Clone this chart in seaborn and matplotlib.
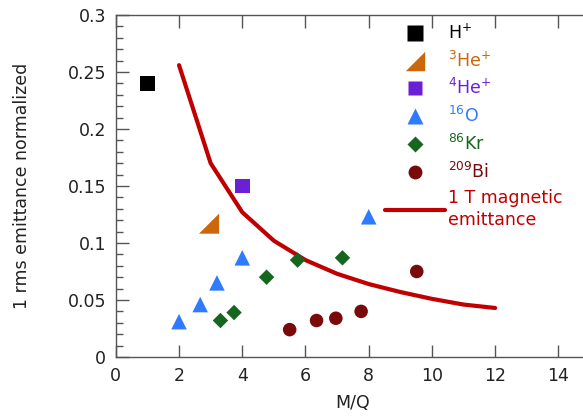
import matplotlib
matplotlib.use("Agg")
import matplotlib.pyplot as plt
import seaborn as sns
import pandas as pd
from matplotlib.lines import Line2D
from matplotlib.ticker import MultipleLocator

sns.set_style("ticks")
plt.rcParams['font.family'] = ['DejaVu Sans']
plt.rcParams['mathtext.fontset'] = 'dejavusans'

# data
h_x = [1.0]; h_y = [0.240]
he3_x = [2.95]; he3_y = [0.117]
he4_x = [4.0]; he4_y = [0.150]
o_x = [2.0, 2.67, 3.2, 4.0, 8.0]
o_y = [0.031, 0.046, 0.065, 0.087, 0.123]
kr_x = [3.31, 3.74, 4.77, 5.75, 7.17]
kr_y = [0.032, 0.039, 0.070, 0.085, 0.087]
bi_x = [5.5, 6.35, 6.96, 7.76, 9.52]
bi_y = [0.024, 0.032, 0.034, 0.040, 0.075]
line_x = [2, 3, 4, 5, 6, 7, 8, 9, 10, 11, 12]
line_y = [0.256, 0.170, 0.127, 0.102, 0.085, 0.073, 0.064, 0.057, 0.051, 0.046, 0.043]
x_ticks = [0, 2, 4, 6, 8, 10, 12, 14]
y_ticks = [0, 0.05, 0.1, 0.15, 0.2, 0.25, 0.3]
y_tick_labels = ['0', '0.05', '0.1', '0.15', '0.2', '0.25', '0.3']

labels = [r'H$^{+}$', r'$^{3}$He$^{+}$', r'$^{4}$He$^{+}$', r'$^{16}$O', r'$^{86}$Kr', r'$^{209}$Bi',
          '1 T magnetic\nemittance']
colors = ['#000000', '#CC660A', '#6B1FD6', '#2E7BFF', '#17661F', '#7A0A0A', '#C00000']
rtri = [(-1, -1), (1, -1), (1, 1), (-1, -1)]

FS = 12.5
fig = plt.figure(figsize=(5.83, 4.19), dpi=100)
ax = fig.add_axes([115.8/583, 1-357/419, (590-115.8)/583, (357-15)/419])

sns.lineplot(x=line_x, y=line_y, ax=ax, color=colors[6], lw=3, zorder=2)
series = [(h_x, h_y, 's', 120, 0), (he3_x, he3_y, rtri, 210, 1), (he4_x, he4_y, 's', 110, 2),
          (o_x, o_y, '^', 125, 3), (kr_x, kr_y, 'D', 62, 4), (bi_x, bi_y, 'o', 95, 5)]
for xs, ys, m, s, i in series:
    sns.scatterplot(x=xs, y=ys, ax=ax, marker=m, s=s, color=colors[i], edgecolor='none', zorder=3)

ax.set_xlim(0, 15)
ax.set_ylim(0, 0.3)
ax.set_xticks(x_ticks)
ax.set_xticklabels([str(v) for v in x_ticks])
ax.set_yticks(y_ticks)
ax.set_yticklabels(y_tick_labels)
ax.yaxis.set_minor_locator(MultipleLocator(0.01))
ax.tick_params(axis='both', which='major', direction='in', length=9, width=1, color='#555555',
               labelsize=FS, labelcolor='#222222', top=True, pad=7)
ax.tick_params(axis='y', which='minor', direction='in', length=5, width=1, color='#555555')
for sp in ax.spines.values():
    sp.set_color('#555555')
    sp.set_linewidth(1)
ax.set_xlabel('M/Q', fontsize=FS, color='#222222', labelpad=7)
ax.set_ylabel('1 rms emittance normalized', fontsize=FS, color='#222222', labelpad=26)

handles = [
    Line2D([], [], ls='none', marker='s', ms=11, color=colors[0], mec='none'),
    Line2D([], [], ls='none', marker=rtri, ms=14, color=colors[1], mec='none'),
    Line2D([], [], ls='none', marker='s', ms=10, color=colors[2], mec='none'),
    Line2D([], [], ls='none', marker='^', ms=11, color=colors[3], mec='none'),
    Line2D([], [], ls='none', marker='D', ms=8, color=colors[4], mec='none'),
    Line2D([], [], ls='none', marker='o', ms=10, color=colors[5], mec='none'),
    Line2D([], [], color=colors[6], lw=3),
]
leg = ax.legend(handles, labels, loc='upper left', bbox_to_anchor=(376/583, 1-15/419),
                bbox_transform=fig.transFigure, frameon=False, fontsize=FS,
                handlelength=3.5, handletextpad=0.12, labelspacing=0.44, borderpad=0)
for t, c in zip(leg.get_texts(), colors):
    t.set_color(c)
    t.set_linespacing(1.25)

fig.savefig('out.png', dpi=100)
